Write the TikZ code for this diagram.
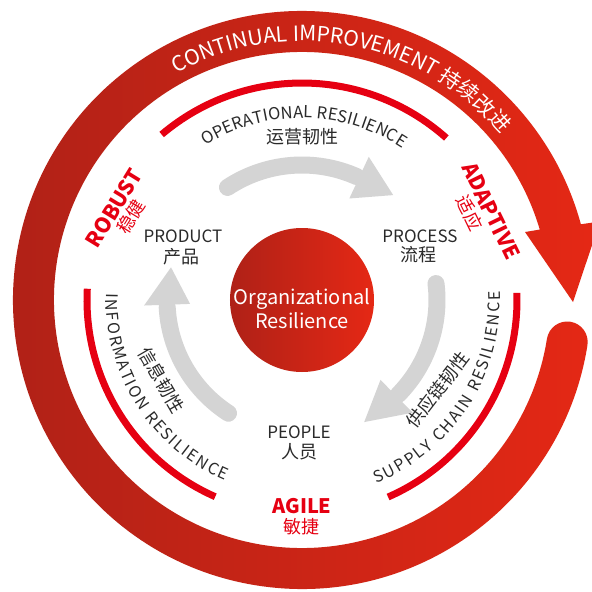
\documentclass[tikz,border=0pt]{standalone}
\usepackage{fontspec}
\setmainfont{Noto Sans CJK SC}
\usetikzlibrary{decorations.text}
\definecolor{ringL}{HTML}{AF2117}
\definecolor{ringR}{HTML}{E52815}
\definecolor{arcred}{HTML}{E60012}
\definecolor{arrowgray}{HTML}{D4D4D4}
\definecolor{txt}{HTML}{2A2A2A}
\newcommand{\fsz}[1]{\fontsize{#1}{#1}\selectfont}
\begin{document}
\begin{tikzpicture}[x=1pt,y=1pt,
  lbl/.style={text=txt, inner sep=0pt},
  redlbl/.style={text=arcred, inner sep=0pt},
  grayarrow/.style={draw=arrowgray, line width=17pt, line cap=round},
  grayhead/.style={fill=arrowgray},
  redarc/.style={draw=arcred, line width=7pt},
]
\useasboundingbox (-302,-292) rectangle (290,300);
\fill[white] (-302,-292) rectangle (290,300);
\coordinate (C) at (0,0);
% outer improvement ring with arrow head
\shade[left color=ringL, right color=ringR]
  (16.5:248) arc[start angle=16.5, end angle=351, radius=248]
  arc[start angle=171, end angle=-9, radius=20.5]
  arc[start angle=351, end angle=15.2, radius=289]
  -- (298,78.5) coordinate (headR) -- (271,-2) coordinate (tip) -- (223,68) coordinate (headL) -- cycle;
\path[decorate, decoration={text along path, text align={fit to path},
  text={|\color{white}\fsz{21}|CONTINUAL IMPROVEMENT 持续改进}}]
  (119:259) arc[start angle=119, end angle=40, radius=259];
% red resilience arcs
\draw[redarc] (130.3:217) arc[start angle=130.3, end angle=48.3, radius=217];
\draw[redarc] (177:215) arc[start angle=177, end angle=246.2, radius=215];
\draw[redarc] (-66.4:215) arc[start angle=-66.4, end angle=1.9, radius=215];
% curved labels
\path[decorate, decoration={text along path, text align={fit to path},
  text={|\color{txt}\fsz{16.5}|OPERATIONAL RESILIENCE}}]
  (122:182) arc[start angle=122, end angle=56.5, radius=182];
\path[decorate, decoration={text along path, text align={fit to path},
  text={|\color{txt}\fsz{16}|INFORMATION RESILIENCE}}]
  (178:196) arc[start angle=178, end angle=247, radius=196];
\path[decorate, decoration={text along path, text align={fit to path},
  text={|\color{txt}\fsz{16}|SUPPLY CHAIN RESILIENCE}}]
  (-68:198) arc[start angle=-68, end angle=2.5, radius=198];
\node[lbl, font=\fsz{18}] (opcn) at (1,163) {运营韧性};
\node[lbl, font=\fsz{18}, rotate=-60] (infocn) at (-141,-80) {信息韧性};
\node[lbl, font=\fsz{18}, rotate=52.4] (supcn) at (136,-90) {供应链韧性};
% gray cycle arrows
\draw[grayarrow] (123.5:135) arc[start angle=123.5, end angle=66, radius=135];
\fill[grayhead] (65:112) -- (49:139) -- (65:158) -- cycle;
\draw[grayarrow] (7:135) arc[start angle=7, end angle=-44.5, radius=135];
\fill[grayhead] (-45.5:112) -- (-63:137) -- (-45.5:158) -- cycle;
\draw[grayarrow] (237:135) arc[start angle=237, end angle=183, radius=135];
\fill[grayhead] (182:112) -- (166:135) -- (182:158) -- cycle;
% core
\node[circle, minimum size=144pt, inner sep=0pt, left color=ringL, right color=ringR] (core) at (0,0) {};
\node[anchor=base, text=white, inner sep=0pt, font=\fsz{20}] (org) at (0,-4) {Organizational};
\node[anchor=base, text=white, inner sep=0pt, font=\fsz{20}] (res) at (0,-28) {Resilience};
% element labels
\node[lbl, font=\fsz{17}] (product) at (-119,64) {PRODUCT};
\node[lbl, font=\fsz{18}] (productcn) at (-120,43) {产品};
\node[lbl, font=\fsz{17}] (process) at (118,64) {PROCESS};
\node[lbl, font=\fsz{18}] (processcn) at (117,45) {流程};
\node[lbl, font=\fsz{17}] (people) at (-3,-132) {PEOPLE};
\node[lbl, font=\fsz{18}] (peoplecn) at (-2,-152) {人员};
% quality labels
\node[redlbl, font=\bfseries\fsz{21}, rotate=58.4] (robust) at (-188,92) {ROBUST};
\node[redlbl, font=\fsz{18}, rotate=58.4] (robustcn) at (-171,83) {稳健};
\node[redlbl, font=\bfseries\fsz{21}, rotate=-64] (adaptive) at (189,89) {ADAPTIVE};
\node[redlbl, font=\fsz{18}, rotate=-64] (adaptivecn) at (168,87) {适应};
\node[redlbl, font=\bfseries\fsz{20}] (agile) at (0,-206) {AGILE};
\node[redlbl, font=\fsz{18}] (agilecn) at (0,-227) {敏捷};
\end{tikzpicture}
\end{document}
